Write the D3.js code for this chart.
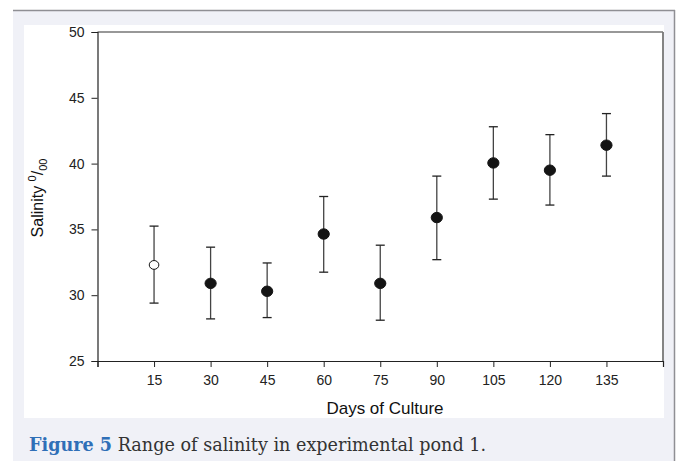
<!DOCTYPE html>
<html>
<head>
<meta charset="utf-8">
<script src="https://cdn.jsdelivr.net/npm/d3@7"></script>
<style>
  html, body { margin: 0; padding: 0; background: #ffffff; }
  svg { display: block; }
</style>
</head>
<body>
<svg id="chart" width="680" height="461"></svg>
<script>
// Salinity (ppt) measured in experimental pond 1 over the culture period
const days = [15, 30, 45, 60, 75, 90, 105, 120, 135];
const salinityMean = [32.3, 30.9, 30.3, 34.65, 30.9, 35.9, 40.05, 39.5, 41.4];
const salinityHigh = [35.25, 33.65, 32.45, 37.5, 33.8, 39.05, 42.8, 42.2, 43.8];
const salinityLow = [29.4, 28.2, 28.3, 31.75, 28.1, 32.7, 37.3, 36.85, 39.05];
const openMarker = [true, false, false, false, false, false, false, false, false];
const xTicks = [15, 30, 45, 60, 75, 90, 105, 120, 135];
const yTicks = [25, 30, 35, 40, 45, 50];

const svg = d3.select("#chart");
const W = 680, H = 461;

// page panel and white figure area
svg.append("rect").attr("x", 13).attr("y", 10).attr("width", 661).attr("height", H - 10)
  .attr("fill", "#f0f1f7");
svg.append("line").attr("x1", 13).attr("x2", 675).attr("y1", 10.5).attr("y2", 10.5)
  .attr("stroke", "#8f8f94").attr("stroke-width", 1.5);
svg.append("line").attr("x1", 674.5).attr("x2", 674.5).attr("y1", 10).attr("y2", H)
  .attr("stroke", "#8f8f94").attr("stroke-width", 1.5);
svg.append("rect").attr("x", 24).attr("y", 25).attr("width", 640).attr("height", 393)
  .attr("fill", "#ffffff");

const m = { left: 97.5, right: 663, top: 32, bottom: 361 };
const x = d3.scaleLinear().domain([0, 150]).range([m.left, m.right]);
const y = d3.scaleLinear().domain([25, 50]).range([m.bottom, m.top]);

const font = "'Liberation Sans', Arial, sans-serif";

// frame: top and right edges
svg.append("line").attr("x1", m.left).attr("x2", m.right).attr("y1", m.top).attr("y2", m.top)
  .attr("stroke", "#333").attr("stroke-width", 1.2);
svg.append("line").attr("x1", m.right).attr("x2", m.right).attr("y1", m.top).attr("y2", m.bottom)
  .attr("stroke", "#777").attr("stroke-width", 1.8);

// axes
const xAxis = svg.append("g").attr("transform", `translate(0,${m.bottom})`)
  .call(d3.axisBottom(x).tickValues([0].concat(xTicks)).tickSize(6).tickPadding(8)
    .tickFormat(d => d === 0 ? "" : d));
const yAxis = svg.append("g").attr("transform", `translate(${m.left},0)`)
  .call(d3.axisLeft(y).tickValues(yTicks).tickSize(6).tickPadding(7));
[xAxis, yAxis].forEach(g => {
  g.select(".domain").attr("stroke", "#222").attr("stroke-width", 1.2);
  g.selectAll(".tick line").attr("stroke", "#222");
  g.selectAll(".tick text").attr("fill", "#222").attr("font-family", font).attr("font-size", 14);
});

// axis titles
svg.append("text").attr("x", 385).attr("y", 414)
  .attr("text-anchor", "middle").attr("font-family", font).attr("font-size", 17)
  .attr("fill", "#111").text("Days of Culture");

const yl = svg.append("text")
  .attr("transform", `translate(43,198) rotate(-90)`)
  .attr("text-anchor", "middle").attr("font-family", font).attr("font-size", 16).attr("fill", "#111");
yl.append("tspan").text("Salinity ");
yl.append("tspan").attr("font-size", 11).attr("dy", -7).text("0");
yl.append("tspan").attr("font-size", 16).attr("dy", 7).text("/");
yl.append("tspan").attr("font-size", 11).attr("dy", 4).text("00");

// error bars and markers
const rows = days.map((d, i) => ({
  day: d, mean: salinityMean[i], hi: salinityHigh[i], lo: salinityLow[i], open: openMarker[i]
}));
const g = svg.append("g");
const bars = g.selectAll("g.bar").data(rows).enter().append("g").attr("class", "bar");
bars.append("line")
  .attr("x1", d => x(d.day)).attr("x2", d => x(d.day))
  .attr("y1", d => y(d.hi)).attr("y2", d => y(d.lo))
  .attr("stroke", "#444").attr("stroke-width", 1.3);
["hi", "lo"].forEach(k => {
  bars.append("line")
    .attr("x1", d => x(d.day) - 4.5).attr("x2", d => x(d.day) + 4.5)
    .attr("y1", d => y(d[k])).attr("y2", d => y(d[k]))
    .attr("stroke", "#222").attr("stroke-width", 1.3);
});
bars.append("ellipse")
  .attr("cx", d => x(d.day)).attr("cy", d => y(d.mean))
  .attr("rx", d => d.open ? 4.8 : 5.6).attr("ry", d => d.open ? 4.4 : 5.2)
  .attr("fill", d => d.open ? "#ffffff" : "#141414")
  .attr("stroke", "#141414").attr("stroke-width", 1);

// caption
const cap = svg.append("text").attr("x", 29).attr("y", 451)
  .attr("font-family", "'DejaVu Serif', 'Liberation Serif', serif").attr("font-size", 17.6);
cap.append("tspan").attr("fill", "#2f6fb7").attr("font-weight", "bold").text("Figure 5");
cap.append("tspan").attr("fill", "#333").text(" Range of salinity in experimental pond 1.");
</script>
</body>
</html>
